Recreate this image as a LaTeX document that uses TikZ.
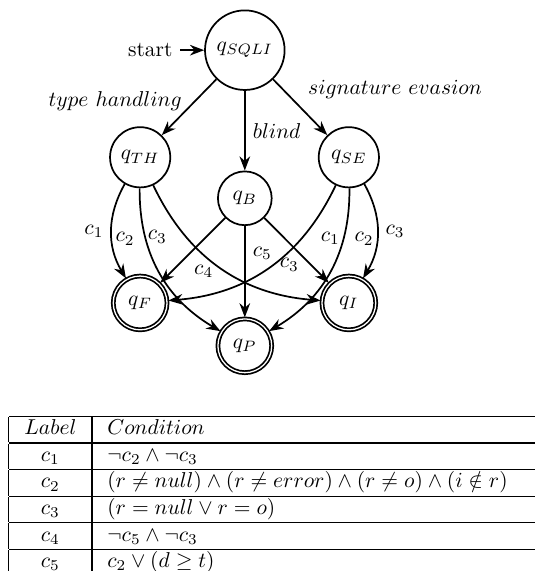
\documentclass[tikz,border=0pt]{standalone}
\usetikzlibrary{automata,arrows.meta}
\begin{document}
\begin{tikzpicture}[>={Stealth}, thick, auto, initial distance=11pt]
\useasboundingbox (0,0) rectangle (8.74,-9.33);
\clip (0,0) rectangle (8.74,-9.33);

\begin{scope}[every state/.style={draw}]
    \node[state, initial, initial text=start, minimum size=37pt] (SQLI) at (4.00,-0.82) {$q_{SQLI}$};
    \node[state, minimum size=28pt] (TH) at (2.29,-2.57) {$q_{TH}$};
    \node[state, minimum size=28pt] (SE) at (5.70,-2.57) {$q_{SE}$};
    \node[state] (B)  at (4.00,-3.24) {$q_B$};
    \node[state, accepting] (F) at (2.29,-4.95) {$q_F$};
    \node[state, accepting] (I) at (5.70,-4.95) {$q_I$};
    \node[state, accepting] (P) at (4.00,-5.65) {$q_P$};
\end{scope}

\begin{scope}[every edge/.style={draw}]
    % first choice
    \path [->] (SQLI) edge node[swap, pos=0.6, inner sep=0.5pt] {$type\ handling$} (TH);
    \path [->] (SQLI) edge node {$blind$} (B);
    \path [->] (SQLI) edge node {$signature\ evasion$} (SE);
    % type handling
    \path [->] (TH) edge[bend right=30] node[swap] {$c_1$} (F);
    \path [->] (TH) edge[bend right=30] node[swap, pos=0.2] {$c_2$} (P);
    \path [->] (TH) edge[bend right=30] node[swap, pos=0.19] {$c_3$} (I);
    % blind
    \path [->] (B) edge node[pos=0.6] {$c_4$} (F);
    \path [->] (B) edge node[pos=0.3] {$c_5$} (P);
    \path [->] (B) edge node[swap, pos=0.58, inner sep=1pt] {$c_3$} (I);
    % signature evasion
    \path [->] (SE) edge[bend left=30] node[pos=0.2] {$c_1$} (F);
    \path [->] (SE) edge[bend left=30] node[pos=0.2] {$c_2$} (P);
    \path [->] (SE) edge[bend left=30] node {$c_3$} (I);
\end{scope}

% conditions on the edges
\node[anchor=north west, inner sep=0pt] (conds) at (0.13,-6.78) {%
\setlength{\tabcolsep}{7.2pt}\renewcommand{\arraystretch}{0.98}%
\setlength{\arrayrulewidth}{0.6pt}%
\begin{tabular}{|c|p{7.4cm}|}
\hline
$Label$ & $Condition$ \\ \hline
$c_1$ & $\neg c_2 \wedge \neg c_3$ \\ \hline
$c_2$ & $(r \neq null) \wedge (r \neq error) \wedge (r \neq o) \wedge (i \notin r)$ \\ \hline
$c_3$ & $(r = null \vee r = o)$ \\ \hline
$c_4$ & $\neg c_5 \wedge \neg c_3$ \\ \hline
$c_5$ & $c_2 \vee (d \geq t)$ \\
\end{tabular}};
\end{tikzpicture}
\end{document}
